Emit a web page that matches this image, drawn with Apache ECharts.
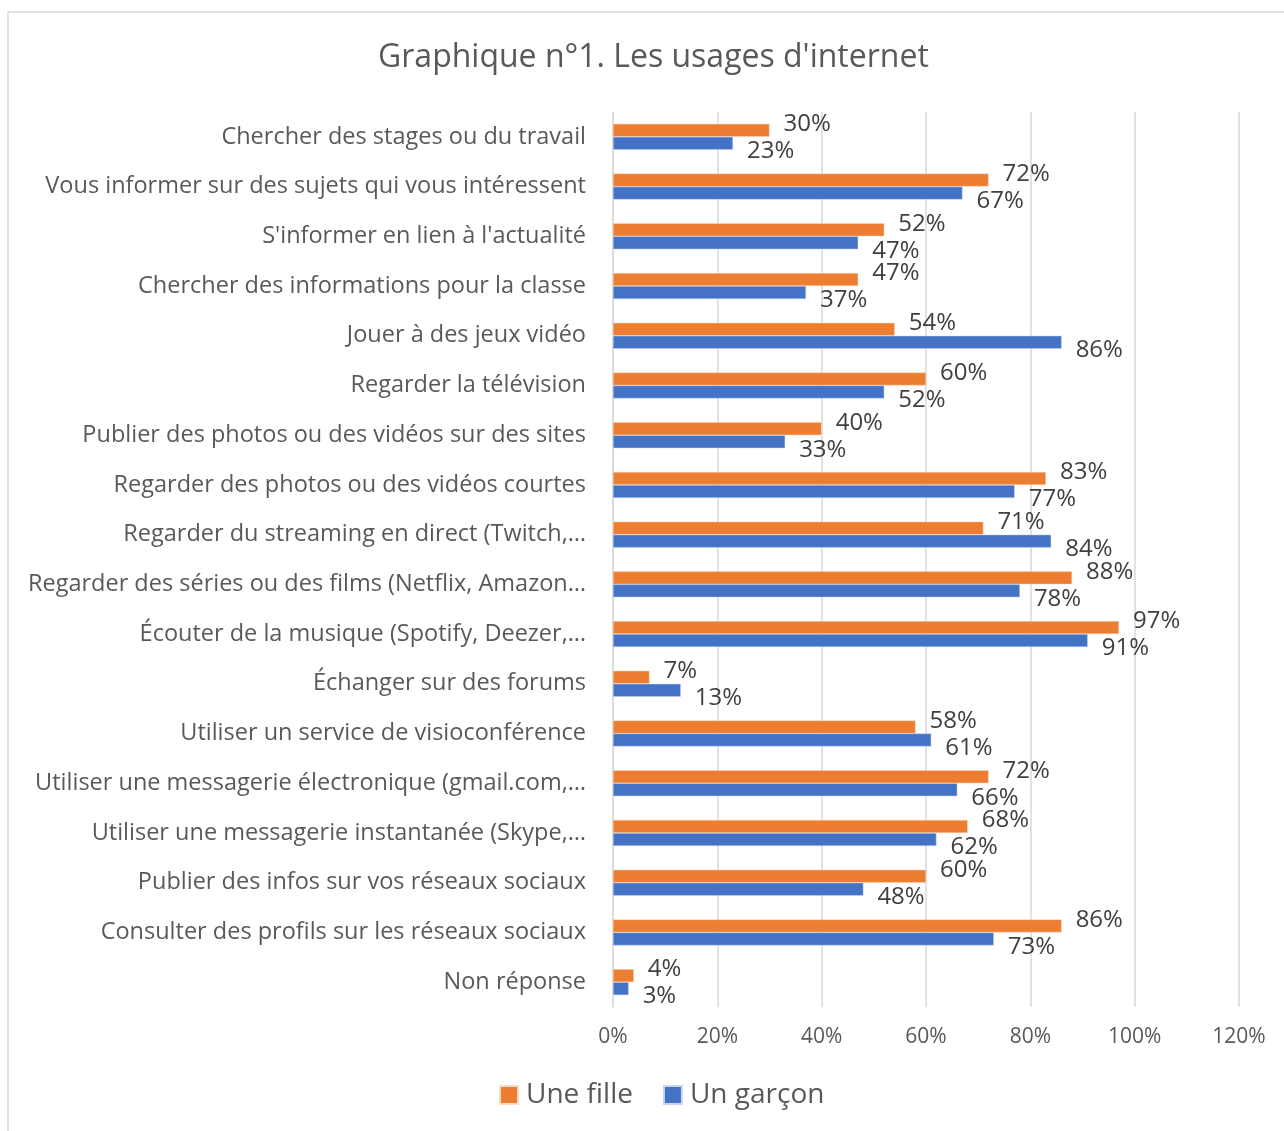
<!DOCTYPE html>
<html>
<head>
<meta charset="utf-8">
<script src="https://cdn.jsdelivr.net/npm/echarts@6/dist/echarts.min.js"></script>
<style>
  html, body { margin: 0; padding: 0; background: #fff; }
  #chart { width: 1284px; height: 1131px; }
</style>
</head>
<body>
<div id="chart"></div>
<script>
const categories = [
  "Chercher des stages ou du travail",
  "Vous informer sur des sujets qui vous intéressent",
  "S'informer en lien à l'actualité",
  "Chercher des informations pour la classe",
  "Jouer à des jeux vidéo",
  "Regarder la télévision",
  "Publier des photos ou des vidéos sur des sites",
  "Regarder des photos ou des vidéos courtes",
  "Regarder du streaming en direct (Twitch,…",
  "Regarder des séries ou des films (Netflix, Amazon…",
  "Écouter de la musique (Spotify, Deezer,…",
  "Échanger sur des forums",
  "Utiliser un service de visioconférence",
  "Utiliser une messagerie électronique (gmail.com,…",
  "Utiliser une messagerie instantanée (Skype,…",
  "Publier des infos sur vos réseaux sociaux",
  "Consulter des profils sur les réseaux sociaux",
  "Non réponse"
];
const fille = [30, 72, 52, 47, 54, 60, 40, 83, 71, 88, 97, 7, 58, 72, 68, 60, 86, 4];
const garcon = [23, 67, 47, 37, 86, 52, 33, 77, 84, 78, 91, 13, 61, 66, 62, 48, 73, 3];
const xTicks = [0, 20, 40, 60, 80, 100, 120];

const font = "'Open Sans', 'Noto Sans', sans-serif";
const chart = echarts.init(document.getElementById("chart"));

const labelStyle = (dy) => ({
  show: true,
  position: "right",
  distance: 14,
  offset: [0, dy],
  formatter: (p) => p.value + "%",
  fontFamily: font,
  fontSize: 24,
  color: "#404040"
});

const option = {
  animation: false,
  backgroundColor: "#fff",
  graphic: [{
    type: "rect",
    shape: { x: 8, y: 12, width: 1290, height: 1140 },
    style: { fill: "none", stroke: "#d9d9d9", lineWidth: 1.5 },
    silent: true
  }],
  title: {
    text: "Graphique n°1. Les usages d'internet",
    left: 373,
    top: 37,
    textStyle: { fontFamily: font, fontSize: 32, fontWeight: "normal", color: "#595959" }
  },
  legend: {
    bottom: 17,
    left: 494,
    itemWidth: 18,
    itemHeight: 18,
    itemGap: 30,
    icon: "rect",
    textStyle: { fontFamily: font, fontSize: 28, color: "#595959", padding: [0, 0, 0, 3] },
    data: ["Une fille", "Un garçon"]
  },
  grid: { left: 613, right: 45, top: 112, bottom: 124, containLabel: false },
  xAxis: {
    type: "value",
    min: 0,
    max: 120,
    interval: 20,
    axisLine: { show: false },
    axisTick: { show: false },
    splitLine: { lineStyle: { color: "#d9d9d9", width: 1.5 } },
    axisLabel: {
      margin: 20,
      fontFamily: font,
      fontSize: 21,
      color: "#595959",
      customValues: xTicks,
      formatter: (v) => v + "%"
    }
  },
  yAxis: {
    type: "category",
    inverse: true,
    data: categories,
    axisTick: { show: false },
    axisLine: { lineStyle: { color: "#d9d9d9", width: 1.5 } },
    axisLabel: {
      margin: 27,
      fontFamily: font,
      fontSize: 23.5,
      color: "#595959"
    }
  },
  series: [
    {
      name: "Une fille",
      type: "bar",
      data: fille,
      barWidth: 13,
      barGap: "0%",
      itemStyle: { color: "#ED7D31", borderColor: "#fbd9c3", borderWidth: 0.5 },
      label: labelStyle(-6)
    },
    {
      name: "Un garçon",
      type: "bar",
      data: garcon,
      barWidth: 13,
      barGap: "0%",
      itemStyle: { color: "#4472C4", borderColor: "#c9d6ee", borderWidth: 0.5 },
      label: labelStyle(8)
    }
  ]
};
chart.setOption(option);
</script>
</body>
</html>
